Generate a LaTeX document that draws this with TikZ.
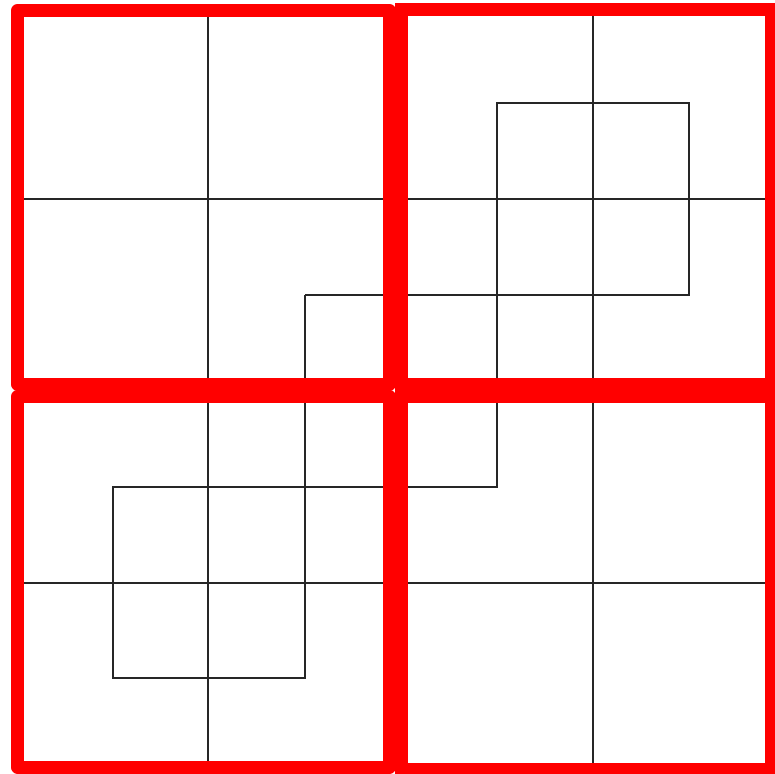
\documentclass[tikz,border=0pt]{standalone}
\begin{document}
\begin{tikzpicture}[x=1pt,y=-1pt,
  gridline/.style={line width=1.5pt,black!85},
  pathline/.style={line width=1.5pt,black!85,line join=miter},
  redbox/.style={draw=red,line width=13pt}]
\useasboundingbox (0,0) rectangle (775,773);
\clip (0,0) rectangle (775,773);
% grid lines
\draw[gridline] (208,12) -- (208,765);
\draw[gridline] (593,12) -- (593,765);
\draw[gridline] (20,199) -- (770,199);
\draw[gridline] (20,583) -- (770,583);
% path points
\coordinate (a1) at (497,103);
\coordinate (a2) at (689,103);
\coordinate (a3) at (689,295);
\coordinate (a4) at (305,295);
\coordinate (a5) at (305,678);
\coordinate (a6) at (113,678);
\coordinate (a7) at (113,487);
\coordinate (a8) at (497,487);
\draw[pathline] (a4) -- (a3) -- (a2) -- (a1) -- (a8) -- (a7) -- (a6) -- (a5) -- (a4);
% red squares
\draw[redbox,line join=round] (17.5,10.5) rectangle (389.5,384);
\draw[redbox,line join=round] (17.5,396.5) rectangle (389.5,767);
\draw[redbox] (401.5,9.5) rectangle (771,384);
\draw[redbox] (401.5,396.5) rectangle (771,769);
\end{tikzpicture}
\end{document}
